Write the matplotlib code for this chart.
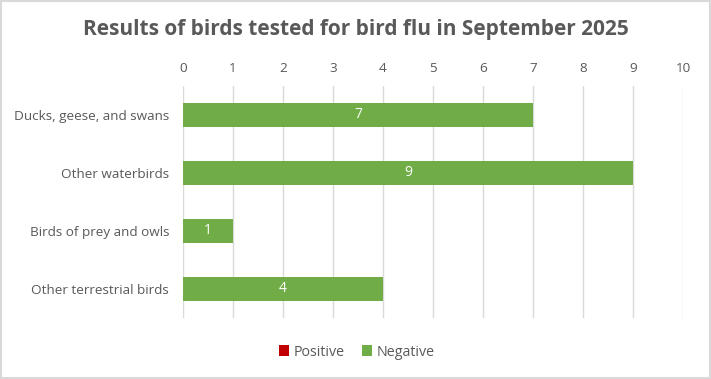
import numpy as np
import matplotlib.pyplot as plt

# Data
categories = ['Ducks, geese, and swans', 'Other waterbirds',
              'Birds of prey and owls', 'Other terrestrial birds']
positive = [0, 0, 0, 0]
negative = [7, 9, 1, 4]
x_ticks = list(range(0, 11))

plt.rcParams['font.family'] = ['Open Sans', 'DejaVu Sans']

fig = plt.figure(figsize=(7.11, 3.79), dpi=100)
ax = fig.add_axes([183 / 711, 1 - 318 / 379, 500 / 711, 232 / 379])

y = np.arange(len(categories))
ax.barh(y, positive, height=0.42, color='#C00000', label='Positive')
bars = ax.barh(y, negative, left=positive, height=0.42, color='#70AD47', label='Negative')

for b, v in zip(bars, negative):
    ax.text(b.get_x() + b.get_width() / 2, b.get_y() + b.get_height() / 2, str(v),
            ha='center', va='center', color='white', fontsize=10)

ax.set_ylim(len(categories) - 0.5, -0.5)
ax.set_xlim(0, 10)
ax.set_xticks(x_ticks)
ax.set_yticks(y)
ax.set_yticklabels(categories)
ax.xaxis.tick_top()
ax.tick_params(axis='both', length=0, colors='#595959', labelsize=9.7)
ax.tick_params(axis='x', pad=8)
ax.tick_params(axis='y', pad=10)
ax.grid(axis='x', color='#D9D9D9', linewidth=1)
ax.set_axisbelow(True)
for s in ax.spines.values():
    s.set_visible(False)

fig.text(0.5, 1 - 30 / 379, 'Results of birds tested for bird flu in September 2025',
         ha='center', va='center', fontsize=15, fontweight='bold', color='#595959')

fig.legend(loc='center', bbox_to_anchor=(0.502, 1 - 352 / 379), ncol=2, frameon=False,
           fontsize=10.3, handlelength=0.7, handleheight=0.7, handletextpad=0.3,
           columnspacing=1.2, labelcolor='#595959')

border = plt.Rectangle((0.001, 0.002), 0.997, 0.995, transform=fig.transFigure,
                       fill=False, edgecolor='#D9D9D9', linewidth=1.5)
fig.patches.append(border)

fig.savefig('out.png', dpi=100)
